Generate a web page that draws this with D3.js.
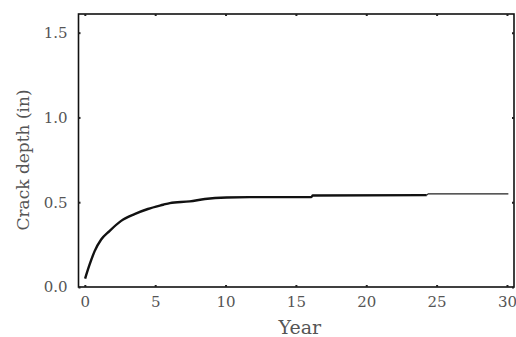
<!DOCTYPE html>
<html>
<head>
<meta charset="utf-8">
<script src="https://cdn.jsdelivr.net/npm/d3@7"></script>
<style>
  body { margin: 0; background: #fff; }
  text { font-family: "DejaVu Serif", "Liberation Serif", serif; fill: #555; }
</style>
</head>
<body>
<svg width="516" height="337"></svg>
<script>
var width = 516, height = 337
var margin = {top: 14, right: 2, bottom: 50, left: 78.5}

// crack depth vs year
var years = [0.02, 0.33, 0.69, 1.16, 1.75, 2.58, 3.53, 4.48, 5.57, 6.04, 7.46, 8.53, 10.07, 11.7, 16.1, 16.2, 24.3]
var depth = [0.05, 0.13, 0.21, 0.28, 0.33, 0.39, 0.43, 0.46, 0.485, 0.495, 0.505, 0.519, 0.528, 0.53, 0.53, 0.54, 0.542]
// thin tail at the end
var tailYears = [24.3, 24.4, 30.1]
var tailDepth = [0.542, 0.549, 0.549]

var xTicks = [0, 5, 10, 15, 20, 25, 30]
var yTicks = [0.0, 0.5, 1.0, 1.5]

var svg = d3.select('svg')

var x = d3.scaleLinear().domain([-0.45, 30.5]).range([margin.left, width - margin.right])
var y = d3.scaleLinear().domain([0, 1.61]).range([height - margin.bottom, margin.top])

// frame
svg.append('rect')
  .attr('x', margin.left).attr('y', margin.top)
  .attr('width', width - margin.right - margin.left)
  .attr('height', height - margin.bottom - margin.top)
  .attr('fill', 'none').attr('stroke', '#111').attr('stroke-width', 1.6)

// bottom axis
var xAxis = svg.append('g')
  .attr('transform', 'translate(0,' + (height - margin.bottom) + ')')
  .call(d3.axisBottom(x).tickValues(xTicks).tickSize(-2).tickPadding(9).tickFormat(d3.format('d')))
xAxis.select('.domain').remove()
xAxis.selectAll('line').attr('stroke', '#222').attr('stroke-width', 2)
xAxis.selectAll('text').attr('font-size', 15).style('fill', '#555')

var xTop = svg.append('g')
  .attr('transform', 'translate(0,' + margin.top + ')')
  .call(d3.axisTop(x).tickValues(xTicks).tickSize(-2).tickFormat(''))
xTop.select('.domain').remove()
xTop.selectAll('line').attr('stroke', '#222').attr('stroke-width', 2)

// left axis
var yAxis = svg.append('g')
  .attr('transform', 'translate(' + margin.left + ',0)')
  .call(d3.axisLeft(y).tickValues(yTicks).tickSize(-2).tickPadding(11).tickFormat(d3.format('.1f')))
yAxis.select('.domain').remove()
yAxis.selectAll('line').attr('stroke', '#222').attr('stroke-width', 2)
yAxis.selectAll('text').attr('font-size', 15).style('fill', '#555')

var yRight = svg.append('g')
  .attr('transform', 'translate(' + (width - margin.right) + ',0)')
  .call(d3.axisRight(y).tickValues(yTicks).tickSize(-2).tickFormat(''))
yRight.select('.domain').remove()
yRight.selectAll('line').attr('stroke', '#222').attr('stroke-width', 2)

// curve
var line = d3.line()
  .x(function(d) { return x(d[0]) })
  .y(function(d) { return y(d[1]) })
  .curve(d3.curveMonotoneX)

svg.append('path')
  .datum(years.map(function(v, i) { return [v, depth[i]] }))
  .attr('d', line)
  .attr('fill', 'none').attr('stroke', '#111').attr('stroke-width', 2.4)

svg.append('path')
  .datum(tailYears.map(function(v, i) { return [v, tailDepth[i]] }))
  .attr('d', d3.line().x(function(d) { return x(d[0]) }).y(function(d) { return y(d[1]) }))
  .attr('fill', 'none').attr('stroke', '#222').attr('stroke-width', 1.2)

// axis titles
svg.append('text')
  .attr('x', (x(0) + x(30)) / 2 + 4).attr('y', 334)
  .attr('text-anchor', 'middle').attr('font-size', 19)
  .text('Year')

svg.append('text')
  .attr('transform', 'translate(29,' + 160 + ') rotate(-90)')
  .attr('text-anchor', 'middle').attr('font-size', 17)
  .text('Crack depth (in)')
</script>
</body>
</html>
